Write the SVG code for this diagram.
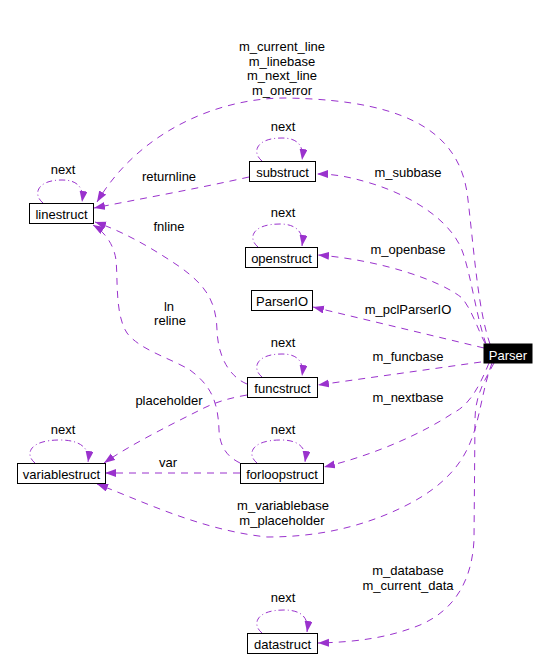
<svg xmlns="http://www.w3.org/2000/svg" width="548" height="658" viewBox="0 0 548 658">
<style>
text{font-family:"Liberation Sans",Arial,sans-serif;font-size:13px;fill:#000;text-anchor:middle}
.e{fill:none;stroke:#9a32cd;stroke-width:1;stroke-dasharray:7,6;marker-end:url(#ah)}
.l{fill:none;stroke:#9a32cd;stroke-width:1;stroke-dasharray:6,3,1,3;marker-end:url(#ah)}
.n rect{fill:#fff;stroke:#000;stroke-width:1}
.p rect{fill:#000;stroke:#000}
.p text{fill:#fff}
</style>
<defs>
<marker id="ah" markerUnits="userSpaceOnUse" markerWidth="12" markerHeight="9" refX="11" refY="4" orient="auto">
<path d="M0,0 L11,4 L0,8 z" fill="#9a32cd"/>
</marker>
</defs>
<rect width="548" height="658" fill="#fff"/>
<g id="edges">
<path class="e" d="M490,344 C478,310 474,250 468,200 C462,140 420,100 285,98 C220,98 140,130 97,202"/>
<path class="e" d="M486,344 C476,315 472,280 463,253 C452,220 410,195 370,183 C350,177 335,174 317,174"/>
<path class="e" d="M249,177 C200,188 140,199 94,208"/>
<path class="e" d="M485,343 C478,330 472,310 462,298 C440,280 380,260 318,255"/>
<path class="e" d="M484,348 L313,307"/>
<path class="e" d="M481,362 L318,385"/>
<path class="e" d="M489,363 C480,385 470,405 453,413 C425,432 375,455 324,467"/>
<path class="e" d="M492,363 C482,390 480,420 470,443 C455,480 420,500 390,513 C350,530 310,537 267,537 C200,530 140,500 97,484"/>
<path class="e" d="M494,363 C485,380 475,395 475,420 L474,540 C472,580 455,610 420,625 C390,637 360,642 318,643"/>
<path class="e" d="M247,384 C232,378 218,360 217,330 C216,300 205,285 180,267 C155,250 125,232 95,222"/>
<path class="e" d="M240,463 C230,458 220,450 219,430 C218,400 210,385 190,370 C170,358 140,350 127,333 C115,315 118,280 116,260 C114,245 105,232 93,225"/>
<path class="e" d="M247,395 C230,398 215,402 200,410 C170,425 130,445 104,463"/>
<path class="e" d="M240,473 L105,473"/>
<path class="l" d="M43,203 C33,195 36,180 62,180 C78,180 84,188 82,202"/>
<path class="l" d="M262,161 C252,153 255,138 282,138 C298,138 304,146 302,160"/>
<path class="l" d="M258,247 C248,239 251,224 280,224 C296,224 304,232 302,246"/>
<path class="l" d="M262,377 C252,369 255,354 282,354 C298,354 304,362 302,376"/>
<path class="l" d="M35,463 C25,455 28,440 60,440 C80,440 90,448 88,462"/>
<path class="l" d="M257,463 C247,455 250,440 281,440 C299,440 307,448 305,462"/>
<path class="l" d="M262,633 C252,625 255,610 284,610 C302,610 309,618 307,632"/>
</g>
<g id="labels">
<text x="282" y="51">m_current_line</text>
<text x="282" y="66">m_linebase</text>
<text x="282" y="80">m_next_line</text>
<text x="282" y="95">m_onerror</text>
<text x="283" y="131">next</text>
<text x="63" y="174">next</text>
<text x="169" y="181">returnline</text>
<text x="408" y="177">m_subbase</text>
<text x="283" y="217">next</text>
<text x="169" y="231">fnline</text>
<text x="408" y="254">m_openbase</text>
<text x="169" y="311">ln</text>
<text x="170" y="325">reline</text>
<text x="408" y="314">m_pclParserIO</text>
<text x="283" y="347">next</text>
<text x="408" y="361">m_funcbase</text>
<text x="169" y="405">placeholder</text>
<text x="408" y="402">m_nextbase</text>
<text x="63" y="434">next</text>
<text x="283" y="434">next</text>
<text x="168" y="467">var</text>
<text x="283" y="510">m_variablebase</text>
<text x="282" y="525">m_placeholder</text>
<text x="408" y="575">m_database</text>
<text x="408" y="590">m_current_data</text>
<text x="283" y="602">next</text>
</g>
<g id="linestruct" class="n"><rect x="29.5" y="203.5" width="64" height="20"/><text x="61.5" y="219">linestruct</text></g>
<g id="substruct" class="n"><rect x="249.5" y="161.5" width="66" height="20"/><text x="282.5" y="177">substruct</text></g>
<g id="openstruct" class="n"><rect x="245.5" y="247.5" width="72" height="20"/><text x="281.5" y="263">openstruct</text></g>
<g id="ParserIO" class="n"><rect x="251.5" y="290.5" width="61" height="20"/><text x="282" y="306">ParserIO</text></g>
<g id="Parser" class="p"><rect x="484" y="344" width="48" height="19"/><text x="508" y="360">Parser</text></g>
<g id="funcstruct" class="n"><rect x="247.5" y="377.5" width="70" height="20"/><text x="282.5" y="393">funcstruct</text></g>
<g id="variablestruct" class="n"><rect x="17.5" y="463.5" width="88" height="20"/><text x="61.5" y="479">variablestruct</text></g>
<g id="forloopstruct" class="n"><rect x="240.5" y="463.5" width="83" height="20"/><text x="282" y="479">forloopstruct</text></g>
<g id="datastruct" class="n"><rect x="247.5" y="633.5" width="70" height="20"/><text x="282.5" y="649">datastruct</text></g>
</svg>
